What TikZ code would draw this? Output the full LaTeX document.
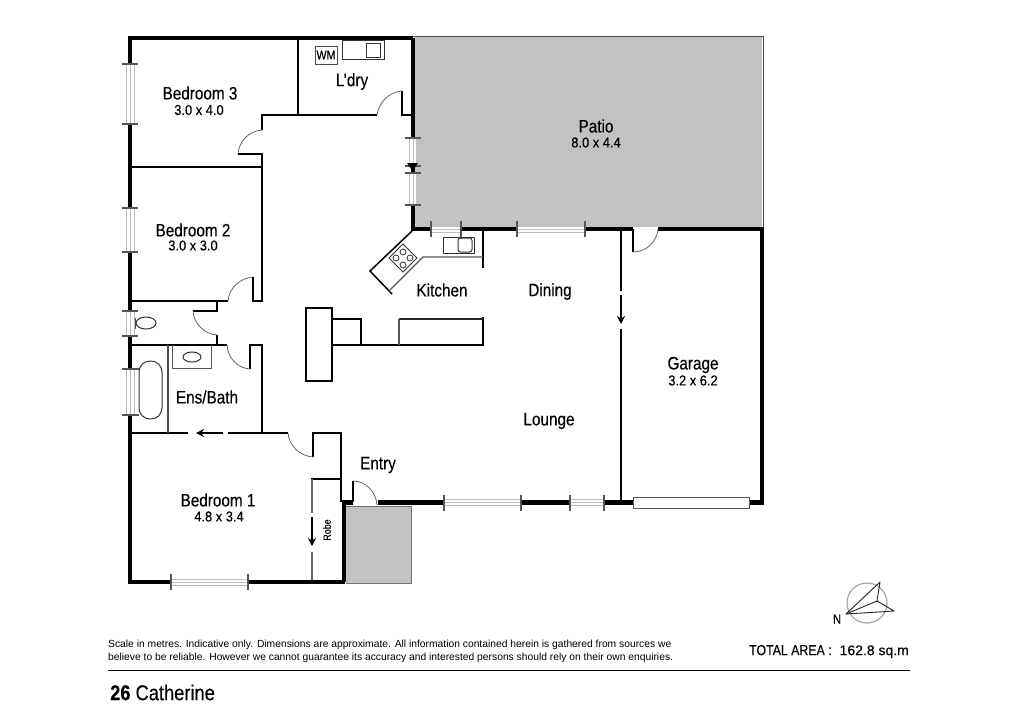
\documentclass[tikz,border=0pt]{standalone}
\usepackage{fontspec}
\setmainfont[FakeStretch=0.85,FakeBold=0.25]{Liberation Sans}
\newfontfamily\plainfont{Liberation Sans}
\newfontfamily\dimsfont[FakeStretch=0.9,FakeBold=0.15]{Liberation Sans}
\newfontfamily\widefont[FakeBold=0.2]{Liberation Sans}
\usetikzlibrary{arrows.meta}
\definecolor{patio}{HTML}{C2C2C2}
\definecolor{fix}{HTML}{555555}
\definecolor{wline}{HTML}{BDBDBD}
\tikzset{
 x=1pt,y=-1pt,
 outerwall/.style={line width=4.4pt,black,line join=miter},
 inner/.style={line width=1.9pt,black},
 thin/.style={line width=1.1pt,fix},
 fixture/.style={line width=1pt,black!80},
 swing/.style={line width=.8pt,black!60},
 tick/.style={line width=1.1pt,fix},
 glass/.style={line width=.9pt,wline},
 room/.style={font=\fontsize{18}{18}\selectfont,inner sep=0pt},
 dims/.style={font=\dimsfont\fontsize{14.3}{14.3}\selectfont,inner sep=0pt},
 arr/.style={line width=1.4pt,black,-{Stealth[length=8pt,width=8pt]}},
}
\newcommand{\hwin}[3]{% x1 x2 y
 \draw[glass] (#1,#3-3) -- (#2,#3-3) (#1,#3) -- (#2,#3) (#1,#3+3) -- (#2,#3+3);
 \draw[tick] (#1,#3-8) -- (#1,#3+8) (#2,#3-8) -- (#2,#3+8);}
\newcommand{\vwin}[3]{% y1 y2 x
 \draw[glass] (#3-4,#1) -- (#3-4,#2) (#3,#1) -- (#3,#2) (#3+4,#1) -- (#3+4,#2);
 \draw[tick] (#3-8,#1) -- (#3+8,#1) (#3-8,#2) -- (#3+8,#2);}
\begin{document}
\begin{tikzpicture}
\useasboundingbox (0,0) rectangle (1024,724);
\fill[white] (0,0) rectangle (1024,724);
% patio and porch
\fill[patio] (415,37) rectangle (762,227);
\draw[line width=.8pt,black!70] (413,36.5) -- (763,36.5) -- (763,229);
\draw[line width=1pt,fill=patio,draw=black!55] (346,506) -- (411,506) -- (411,583.5) -- (346,583.5);
% outer walls
\draw[outerwall] (413,38) -- (130,38) -- (130,582) -- (345,582);
\draw[outerwall] (344,582) -- (344,502.5) -- (353,502.5);
\draw[outerwall] (378,502.5) -- (444,502.5);
\draw[outerwall] (521,502.5) -- (570,502.5);
\draw[outerwall] (604,502.5) -- (633,502.5);
\draw[outerwall] (749,502.5) -- (762,502.5) -- (762,229) -- (658,229);
\draw[outerwall] (633,229) -- (585,229);
\draw[outerwall] (517,229) -- (461,229);
\draw[outerwall] (431,229) -- (413,229) -- (413,38);
% windows: erase walls
\foreach \a/\b in {64/124,208/252,311/336,369/415} \fill[white] (126,\a) rectangle (134,\b);
\foreach \a/\b in {138/166,173/205} \fill[white] (410,\a) rectangle (416,\b);
\foreach \a/\b in {171/248} \fill[white] (\a,578) rectangle (\b,586);
\vwin{64}{124}{130}
\vwin{208}{252}{130}
\vwin{311}{336}{130}
\draw[glass] (126,369) -- (126,415) (130,369) -- (130,415) (134,369) -- (134,415);
\draw[tick] (122,369) -- (139,369) (122,415) -- (139,415);
\vwin{138}{166}{413}
\vwin{173}{205}{413}
\hwin{431}{461}{229}
\hwin{517}{585}{229}
\hwin{171}{248}{582}
\hwin{444}{521}{502.5}
\hwin{570}{604}{502.5}
\draw[line width=1pt,fill=white,draw=black!65] (633,497) rectangle (749,508);
% internal walls
\draw[inner] (298,38) -- (298,115);
\draw[inner] (377,115) -- (262,115) -- (262,130);
\draw[inner] (402,91) -- (402,115) -- (413,115);
\draw[inner] (238,154) -- (262,154) -- (262,301) -- (253,301) -- (253,277);
\draw[inner] (130,167) -- (262,167);
\draw[inner] (130,301) -- (228,301);
\draw[inner] (217,301) -- (217,311) -- (193,311);
\draw[inner] (217,335) -- (217,345);
\draw[inner] (130,345) -- (227,345);
\draw[inner] (250,369) -- (250,345) -- (262,345) -- (262,433);
\draw[inner] (130,433) -- (188,433);
\draw[inner] (228,433) -- (288,433);
\draw[inner] (313,457) -- (313,433) -- (341,433) -- (341,502);
\draw[inner] (311,479) -- (341,479);
\draw[inner] (353,502) -- (353,481);
\draw[line width=1.2pt,black!70] (168,345) -- (168,433);
% partition
\draw[inner] (621,229) -- (621,291) (621,329) -- (621,502);
\draw[inner] (633,229) -- (633,252);
\draw[inner] (483,229) -- (483,268);
% door swings
\draw[swing] (377,115) .. controls (379,102) and (389,92) .. (402,91);
\draw[swing] (262,130) .. controls (249,131) and (239,141) .. (238,154);
\draw[swing] (253,277) .. controls (240,278) and (229,288) .. (228,301);
\draw[swing] (193,311) .. controls (194,324) and (204,334) .. (217,335);
\draw[swing] (227,345) .. controls (228,358) and (237,368) .. (250,369);
\draw[swing] (288,433) .. controls (289,446) and (300,456) .. (313,457);
\draw[swing] (353,481) .. controls (366,481) and (376,492) .. (377,505);
\draw[swing] (633,252) .. controls (646,252) and (657,242) .. (658,229);
% sliding-door arrows
\draw[arr] (223,433) -- (196,433);
\draw[arr] (621,295) -- (621,324);
\draw[arr] (312,517) -- (312,546);
\fill[black] (407,163) -- (418,163) -- (412.5,171) -- cycle;
% robe sliding
\draw[line width=1.5pt,black!60] (312,479) -- (312,513) (312,552) -- (312,580);
% L'dry fittings
\node[draw=black!70,line width=1pt,minimum width=22pt,minimum height=18pt,inner sep=0pt,font=\fontsize{12.5}{12.5}\selectfont] (wm) at (326,55) {WM};
\draw[fixture] (342,40) rectangle (384,59);
\draw[fixture] (366,43) rectangle (380,57);
% kitchen
\draw[inner,line width=1.5pt] (412,231) -- (370,271) -- (392,294);
\draw[thin] (483,257) -- (423,257) -- (390,290);
\draw[fixture] (389,258) -- (403,244) -- (417,258) -- (403,272) -- cycle;
\foreach \p in {(403,252),(410,258),(403,265),(396,258)} \draw[line width=.8pt,black!80] \p circle (3);
\draw[fixture] (443,237) rectangle (474,253);
\draw[fixture,rounded corners=2.5pt] (458,238) rectangle (472,252);
% island and benches
\draw[inner] (306,308) rectangle (332,381);
\draw[inner] (332,345) -- (483,345) -- (483,317);
\draw[inner] (332,319) -- (361,319) -- (361,345);
\draw[inner,line width=1.3pt,draw=black!85] (399,319) -- (483,319);
\draw[thin] (399,319) -- (399,345);
% bathroom fittings
\draw[thin,line width=.9pt] (172,345) -- (172,368) -- (211,368) -- (211,345);
\draw[fixture] (192,357) ellipse (9 and 5);
\draw[fixture,rounded corners=11pt] (139,361) rectangle (162,419);
\draw[fixture] (146,323) ellipse (10 and 6);
\draw[line width=.8pt,black!70] (135,318) -- (135,329);
% compass
\draw[line width=1.2pt,black!35] (867,603) circle (20);
\draw[line width=.9pt,black!85,line join=round] (846,614) -- (880,582) -- (877,601) -- (894,611) -- cycle;
\draw[line width=.9pt,black!85] (846,614) -- (877,601);
\node[inner sep=0pt,font=\fontsize{13.5}{13.5}\selectfont] (north) at (837,619) {N};
% room labels
\node[room] (bed3) at (200,93) {Bedroom 3};
\node[dims] (bed3d) at (199,110) {3.0 x 4.0};
\node[room] (ldry) at (352,81.5) {L’dry};
\node[room] (patiolabel) at (596,126) {Patio};
\node[dims] (patiod) at (596,142.5) {8.0 x 4.4};
\node[room] (bed2) at (193,230) {Bedroom 2};
\node[dims] (bed2d) at (193,245.5) {3.0 x 3.0};
\node[room] (kitchen) at (442,290) {Kitchen};
\node[room] (dining) at (550,291.5) {Dining};
\node[room] (lounge) at (549,421) {Lounge};
\node[room] (garage) at (693,365) {Garage};
\node[dims] (garaged) at (693,380.5) {3.2 x 6.2};
\node[room] (ens) at (207,397) {Ens/Bath};
\node[room] (entry) at (378,465) {Entry};
\node[room] (bed1) at (218,500) {Bedroom 1};
\node[dims] (bed1d) at (219,516.5) {4.8 x 3.4};
\node[inner sep=0pt,font=\fontsize{10.5}{10.5}\selectfont,rotate=90] (robe) at (327,530) {Robe};
% footer
\node[inner sep=0pt,anchor=west,font=\plainfont\fontsize{10.3}{13}\selectfont,align=left] (note) at (108,651.5) {Scale in metres. Indicative only. Dimensions are approximate. All information contained herein is gathered from sources we\\believe to be reliable. However we cannot guarantee its accuracy and interested persons should rely on their own enquiries.};
\node[inner sep=0pt,anchor=west,font=\fontsize{14.5}{14.5}\selectfont] (area) at (749,651.5) {TOTAL AREA :\hspace{8pt}{\widefont\fontsize{14}{14}\selectfont 162.8 sq.m}};
\draw[line width=.8pt,black] (108,670.5) -- (910,670.5);
\node[inner sep=0pt,anchor=west,font=\fontsize{21.5}{21.5}\selectfont] (addr) at (110,692.5) {\textbf{26} Catherine};
\end{tikzpicture}
\end{document}
